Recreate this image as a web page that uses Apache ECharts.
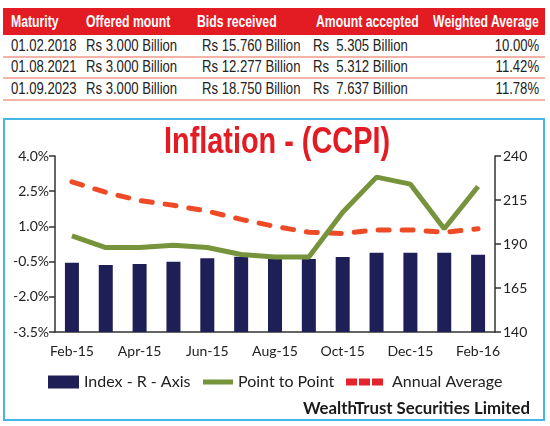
<!DOCTYPE html>
<html>
<head>
<meta charset="utf-8">
<script src="https://cdn.jsdelivr.net/npm/echarts@6/dist/echarts.min.js"></script>
<style>
  html, body { margin: 0; padding: 0; background: #fff; }
  #wrap { position: relative; width: 550px; height: 426px; overflow: hidden; }
  #table { position: absolute; left: 0; top: 0; width: 550px; height: 110px; }
  .hdr { position: absolute; left: 3px; top: 8px; width: 542px; height: 27px; background: #e31b23; }
  .cell { position: absolute; white-space: pre; font-family: "Liberation Sans", Arial, sans-serif; line-height: 1; }
  .hcell { color: #fff; font-weight: bold; font-size: 17px; }
  .rcell { color: #222; font-size: 16px; }
  .sep { position: absolute; left: 3px; width: 542px; height: 2px; background: #f3b3a6; }
  #box { position: absolute; left: 3px; top: 118px; width: 538px; height: 299px; border: 2.5px solid #45b6e6; }
  #chart { position: absolute; left: 0; top: 0; width: 550px; height: 426px; }
</style>
</head>
<body>
<div id="wrap">
  <div id="table"></div>
  <div id="box"></div>
  <div id="chart"></div>
</div>
<script>
// ---- Table data ----
const tableHeaders = ['Maturity', 'Offered mount', 'Bids received', 'Amount accepted', 'Weighted Average'];
const maturities = ['01.02.2018', '01.08.2021', '01.09.2023'];
const offeredAmounts = ['Rs 3.000 Billion', 'Rs 3.000 Billion', 'Rs 3.000 Billion'];
const bidsReceived = ['Rs 15.760 Billion', 'Rs 12.277 Billion', 'Rs 18.750 Billion'];
const amountsAccepted = ['Rs  5.305 Billion', 'Rs  5.312 Billion', 'Rs  7.637 Billion'];
const weightedAverages = ['10.00%', '11.42%', '11.78%'];

// ---- Chart data ----
const chartTitle = 'Inflation - (CCPI)';
const months = ['Feb-15', 'Mar-15', 'Apr-15', 'May-15', 'Jun-15', 'Jul-15', 'Aug-15', 'Sep-15', 'Oct-15', 'Nov-15', 'Dec-15', 'Jan-16', 'Feb-16'];
const indexValues = [179.4, 178.1, 178.6, 179.9, 181.9, 182.8, 182.8, 181.5, 182.6, 185.0, 185.0, 185.0, 183.9];
const pointToPoint = [0.6, 0.1, 0.1, 0.2, 0.1, -0.2, -0.3, -0.3, 1.6, 3.1, 2.8, 0.9, 2.7];
const annualAverage = [2.9, 2.45, 2.1, 1.9, 1.65, 1.3, 1.0, 0.75, 0.7, 0.85, 0.85, 0.75, 0.9];
const leftTickLabels = ['-3.5%', '-2.0%', '-0.5%', '1.0%', '2.5%', '4.0%'];
const rightTickLabels = ['140', '165', '190', '215', '240'];
const leftMin = -3.5, leftMax = 4.0, leftStep = 1.5;
const rightMin = 140, rightMax = 240, rightStep = 25;
const seriesNames = ['Index - R - Axis', 'Point to Point', 'Annual Average'];
const sourceText = 'WealthTrust Securities Limited';

// ---- Build table ----
(function buildTable() {
  const t = document.getElementById('table');
  const hdr = document.createElement('div'); hdr.className = 'hdr'; t.appendChild(hdr);
  const colLeft = [11, 86, 197, 316];
  const rowLeft = [11, 86, 202, 313];
  function addCell(text, cls, left, top, alignRight, sx) {
    const d = document.createElement('div');
    d.className = 'cell ' + cls;
    d.textContent = text;
    d.style.top = top + 'px';
    if (alignRight) {
      d.style.right = (550 - 539) + 'px';
      d.style.transformOrigin = 'right center';
    } else {
      d.style.left = left + 'px';
      d.style.transformOrigin = 'left center';
    }
    d.style.transform = 'scaleX(' + sx + ')';
    t.appendChild(d);
  }
  tableHeaders.forEach((h, i) => addCell(h, 'hcell', colLeft[i], 13, i === 4, 0.72));
  const cols = [maturities, offeredAmounts, bidsReceived, amountsAccepted, weightedAverages];
  const rowTops = [38, 59, 81];
  const sepTops = [56, 77, 99];
  for (let r = 0; r < maturities.length; r++) {
    cols.forEach((c, i) => addCell(c[r], 'rcell', rowLeft[i], rowTops[r], i === 4, 0.82));
    const s = document.createElement('div'); s.className = 'sep'; s.style.top = sepTops[r] + 'px'; t.appendChild(s);
  }
})();

// ---- Chart ----
const chart = echarts.init(document.getElementById('chart'), null, { renderer: 'canvas' });
const axisFont = 'Lato';
const option = {
  animation: false,
  backgroundColor: 'transparent',
  grid: { left: 55, right: 55, top: 156, bottom: 94, containLabel: false },
  legend: [
    {
      data: [{ name: seriesNames[0], icon: 'rect' }],
      left: 48, top: 374, padding: 0, itemWidth: 31, itemHeight: 13, itemGap: 0,
      textStyle: { fontFamily: axisFont, fontSize: 16, color: '#222', lineHeight: 16 }
    },
    {
      data: [{ name: seriesNames[1], icon: 'rect', itemStyle: { color: '#77933c' } }],
      left: 203, top: 374, padding: 0, itemWidth: 30, itemHeight: 5, itemGap: 0,
      textStyle: { fontFamily: axisFont, fontSize: 16, color: '#222', lineHeight: 16 }
    },
    {
      data: [{ name: seriesNames[2], icon: 'path://M0,0h11v7h-11z M13,0h11v7h-11z M26,0h11v7h-11z', itemStyle: { color: '#e5232a' } }],
      left: 346, top: 374, padding: 0, itemWidth: 37, itemHeight: 7, itemGap: 0,
      textStyle: { fontFamily: axisFont, fontSize: 16, color: '#222', lineHeight: 16, padding: [0, 0, 0, 4] }
    }
  ],
  xAxis: {
    type: 'category',
    data: months,
    boundaryGap: true,
    axisLine: { lineStyle: { color: '#333', width: 1.5 } },
    axisTick: { interval: 1, length: 5, alignWithLabel: false, lineStyle: { color: '#333', width: 1.5 } },
    axisLabel: { interval: 1, margin: 12, fontFamily: axisFont, fontSize: 14, color: '#222' },
    splitLine: { show: false }
  },
  yAxis: [
    {
      type: 'value', position: 'left',
      min: 0, max: leftMax - leftMin, interval: leftStep,
      axisLine: { show: true, lineStyle: { color: '#333', width: 1.5 } },
      axisTick: { show: true, length: 6, lineStyle: { color: '#333', width: 1.5 } },
      axisLabel: { margin: 6, fontFamily: axisFont, fontSize: 14, color: '#222',
        formatter: (v) => leftTickLabels[Math.round(v / leftStep)] },
      splitLine: { show: false }
    },
    {
      type: 'value', position: 'right',
      min: 0, max: rightMax - rightMin, interval: rightStep,
      axisLine: { show: true, lineStyle: { color: '#333', width: 1.5 } },
      axisTick: { show: true, length: 6, lineStyle: { color: '#333', width: 1.5 } },
      axisLabel: { margin: 8, fontFamily: axisFont, fontSize: 14, color: '#222',
        formatter: (v) => rightTickLabels[Math.round(v / rightStep)] },
      splitLine: { show: false }
    }
  ],
  series: [
    {
      name: seriesNames[0], type: 'bar', yAxisIndex: 1, barWidth: 14,
      itemStyle: { color: '#1f1f57' },
      data: indexValues.map(v => v - rightMin), z: 1
    },
    {
      name: seriesNames[2], type: 'line', yAxisIndex: 0, symbol: 'none',
      itemStyle: { color: '#ee4a26' },
      lineStyle: { color: '#ee4a26', width: 5, type: [11, 13], cap: 'round' },
      data: annualAverage.map(v => v - leftMin), z: 3
    },
    {
      name: seriesNames[1], type: 'line', yAxisIndex: 0, symbol: 'none',
      itemStyle: { color: '#77933c' },
      lineStyle: { color: '#77933c', width: 5 },
      data: pointToPoint.map(v => v - leftMin), z: 4
    }
  ],
  graphic: [
    {
      type: 'text', x: 277, y: 143, scaleX: 0.78,
      style: { text: chartTitle, textAlign: 'center', textVerticalAlign: 'middle',
        font: 'bold 37px "Liberation Sans", Arial, sans-serif', fill: '#e31b23' }
    },
    {
      type: 'text', right: 20, top: 400,
      style: { text: sourceText, font: 'bold 16.8px Lato', fill: '#1a1a1a' }
    }
  ]
};
chart.setOption(option);
</script>
</body>
</html>
